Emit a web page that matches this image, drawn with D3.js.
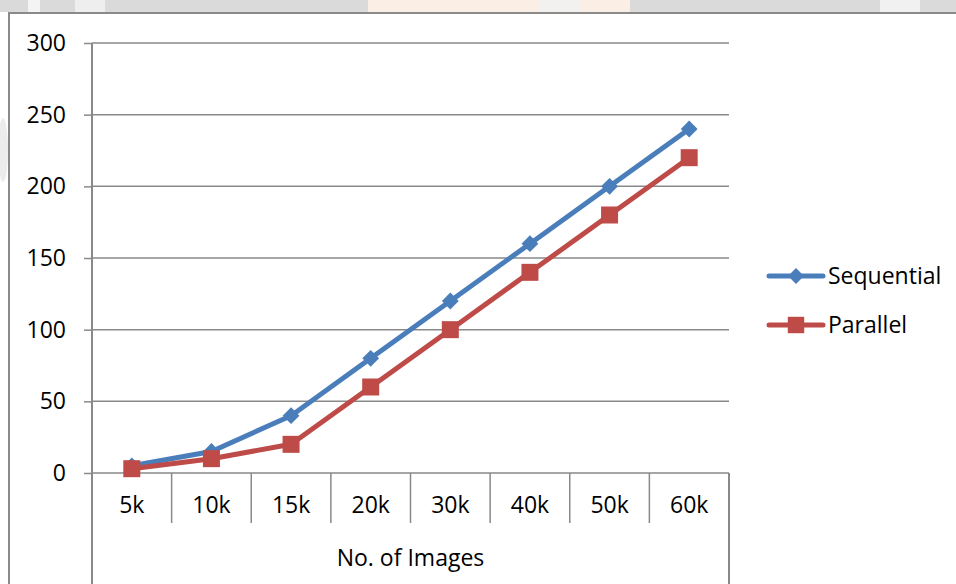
<!DOCTYPE html>
<html>
<head>
<meta charset="utf-8">
<script src="https://cdn.jsdelivr.net/npm/d3@7/dist/d3.min.js"></script>
<style>
  html, body { margin: 0; padding: 0; background: #ffffff; }
  svg { display: block; }
  text { font-family: "Open Sans", "Noto Sans", sans-serif; fill: #000; }
</style>
</head>
<body>
<svg id="chart" width="956" height="584"></svg>
<script>
// Processing time per image count
const categories = ["5k", "10k", "15k", "20k", "30k", "40k", "50k", "60k"];
const sequential = [5, 15, 40, 80, 120, 160, 200, 240];
const parallel = [3, 10, 20, 60, 100, 140, 180, 220];
const yTicks = [0, 50, 100, 150, 200, 250, 300];
const seriesNames = ["Sequential", "Parallel"];
const seriesColors = ["#4a7ebb", "#be4b48"];
const xTitle = "No. of Images";

const W = 956, H = 584;
const plot = { left: 92, right: 729, top: 43, bottom: 473 };
const gridColor = "#898989";
const fontSize = 23;

const svg = d3.select("#chart");

// faded page band above the frame
const band = svg.append("g");
band.append("rect").attr("x", 0).attr("y", 0).attr("width", W).attr("height", 12).attr("fill", "#dadada");
band.append("rect").attr("x", 28).attr("y", 0).attr("width", 12).attr("height", 12).attr("fill", "#f4f4f4");
band.append("rect").attr("x", 75).attr("y", 0).attr("width", 30).attr("height", 12).attr("fill", "#eeeeee");
band.append("rect").attr("x", 368).attr("y", 0).attr("width", 262).attr("height", 12).attr("fill", "#fbeee4");
band.append("rect").attr("x", 540).attr("y", 0).attr("width", 40).attr("height", 12).attr("fill", "#f3f1ef");
band.append("rect").attr("x", 880).attr("y", 0).attr("width", 40).attr("height", 12).attr("fill", "#f1f1f1");
band.append("ellipse").attr("cx", 3).attr("cy", 150).attr("rx", 5).attr("ry", 32).attr("fill", "#ececec");

// outer frame
svg.append("path")
  .attr("d", `M9,${H} L9,13 L${W},13`)
  .attr("fill", "none").attr("stroke", "#8a8a8a").attr("stroke-width", 2);

const x = d3.scaleBand().domain(categories).range([plot.left, plot.right]).padding(0);
const y = d3.scaleLinear().domain([0, 300]).range([plot.bottom, plot.top]);

// horizontal gridlines
svg.append("g").selectAll("line").data(yTicks).join("line")
  .attr("x1", plot.left).attr("x2", plot.right)
  .attr("y1", d => y(d)).attr("y2", d => y(d))
  .attr("stroke", gridColor).attr("stroke-width", 1.5);

// value axis with labels
const yAxis = svg.append("g")
  .attr("transform", `translate(${plot.left},0)`)
  .call(d3.axisLeft(y).tickValues(yTicks).tickSize(8).tickPadding(18).tickFormat(d3.format("d")));
yAxis.select(".domain").remove();
yAxis.selectAll(".tick line").attr("stroke", gridColor).attr("stroke-width", 1.5);
yAxis.selectAll(".tick text").attr("font-size", fontSize).attr("font-family", "Open Sans").attr("fill", "#000");

// vertical axis line running down past the category row
svg.append("line")
  .attr("x1", plot.left).attr("x2", plot.left)
  .attr("y1", plot.top).attr("y2", H)
  .attr("stroke", gridColor).attr("stroke-width", 2);

// category dividers
const bounds = categories.slice(1).map(c => x(c));
svg.append("g").selectAll("line").data(bounds).join("line")
  .attr("x1", d => d).attr("x2", d => d)
  .attr("y1", plot.bottom).attr("y2", 523)
  .attr("stroke", gridColor).attr("stroke-width", 1.5);
svg.append("line")
  .attr("x1", plot.right).attr("x2", plot.right)
  .attr("y1", plot.bottom).attr("y2", H)
  .attr("stroke", gridColor).attr("stroke-width", 2);

// category labels
const xAxis = svg.append("g")
  .attr("transform", `translate(0,${plot.bottom})`)
  .call(d3.axisBottom(x).tickSize(0).tickPadding(24));
xAxis.select(".domain").remove();
xAxis.selectAll(".tick text").attr("font-size", fontSize).attr("font-family", "Open Sans").attr("fill", "#000");

// axis title
svg.append("text")
  .attr("x", (plot.left + plot.right) / 2).attr("y", 566)
  .attr("text-anchor", "middle").attr("font-size", fontSize)
  .text(xTitle);

// series
const line = d3.line().x((d, i) => x(categories[i]) + x.bandwidth() / 2).y(d => y(d));
const diamond = d3.symbol().type(d3.symbolDiamond2).size(180);
const square = d3.symbol().type(d3.symbolSquare).size(289);
const shapes = [diamond, square];

[sequential, parallel].forEach((vals, si) => {
  const g = svg.append("g");
  g.append("path").datum(vals)
    .attr("d", line)
    .attr("fill", "none")
    .attr("stroke", seriesColors[si])
    .attr("stroke-width", 5)
    .attr("stroke-linejoin", "round")
    .attr("stroke-linecap", "round");
  g.selectAll("path.mk").data(vals).join("path")
    .attr("class", "mk")
    .attr("transform", (d, i) => `translate(${x(categories[i]) + x.bandwidth() / 2},${y(d)})`)
    .attr("d", shapes[si])
    .attr("fill", seriesColors[si]);
});

// legend
const legend = svg.append("g");
[276, 325].forEach((ly, si) => {
  legend.append("line")
    .attr("x1", 769).attr("x2", 823).attr("y1", ly).attr("y2", ly)
    .attr("stroke", seriesColors[si]).attr("stroke-width", 5).attr("stroke-linecap", "round");
  legend.append("path")
    .attr("transform", `translate(796,${ly})`)
    .attr("d", si === 0 ? d3.symbol().type(d3.symbolDiamond2).size(160)() : d3.symbol().type(d3.symbolSquare).size(270)())
    .attr("fill", seriesColors[si]);
  legend.append("text")
    .attr("x", 828).attr("y", ly).attr("dy", "0.35em")
    .attr("font-size", fontSize)
    .text(seriesNames[si]);
});
</script>
</body>
</html>
